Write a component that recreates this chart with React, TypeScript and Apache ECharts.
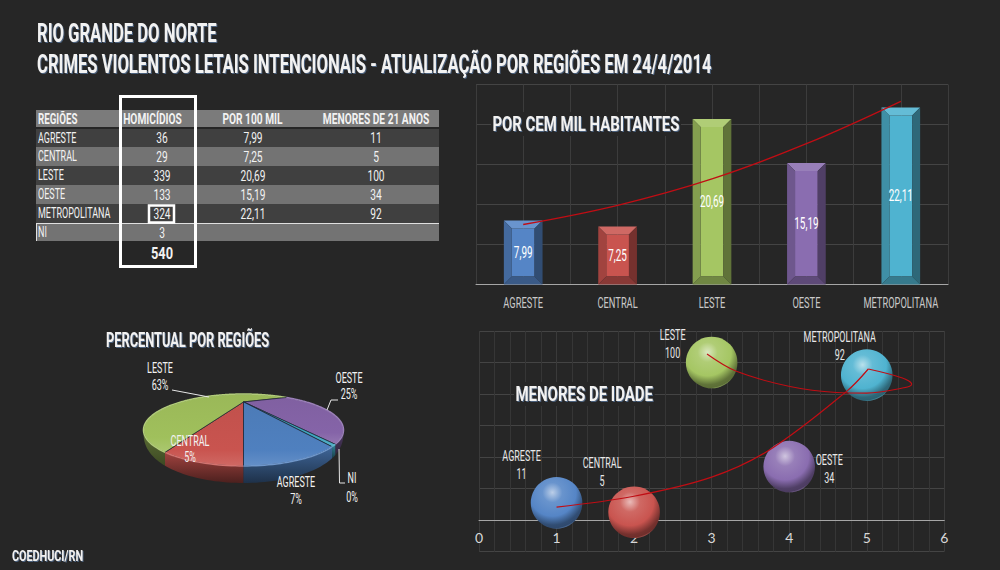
import React, { useEffect, useRef } from "react";
import * as echarts from "echarts";

const titleLines = ["RIO GRANDE DO NORTE", "CRIMES VIOLENTOS LETAIS INTENCIONAIS - ATUALIZAÇÃO POR REGIÕES EM 24/4/2014"];
const tableHeaders = ["REGIÕES", "HOMICÍDIOS", "POR 100 MIL", "MENORES DE 21 ANOS"];
const tableRegions = ["AGRESTE", "CENTRAL", "LESTE", "OESTE", "METROPOLITANA", "NI"];
const tableHomicides = ["36", "29", "339", "133", "324", "3"];
const tableRates = ["7,99", "7,25", "20,69", "15,19", "22,11", ""];
const tableMinors = ["11", "5", "100", "34", "92", ""];
const tableTotal = "540";

const barCategories = ["AGRESTE", "CENTRAL", "LESTE", "OESTE", "METROPOLITANA"];
const barValues = [7.99, 7.25, 20.69, 15.19, 22.11];
const barTrend = [7.5, 9.9, 13.2, 17.6, 22.9];

const bubbleNames = ["AGRESTE", "CENTRAL", "LESTE", "OESTE", "METROPOLITANA"];
const bubbleX = [1, 2, 3, 4, 5];
const bubbleY = [11, 5, 100, 34, 92];
const bubbleTrendRise = [[1, 8.3], [1.98, 15], [3, 27.3], [3.75, 44.7], [4.74, 81.7], [5.02, 95.9]];
const bubbleTrendBack = [[5.02, 95.9], [5.46, 90.2], [5.58, 86.3], [5.46, 83.8], [5, 80.6], [4.61, 81], [4.01, 84.8], [3.32, 94.4], [2.94, 105.4]];

const pieNames = ["CENTRAL", "LESTE", "OESTE", "NI", "AGRESTE"];
const pieValues = [29, 339, 133, 3, 36];
const piePercents = ["5%", "63%", "25%", "0%", "7%"];

const BG = "#262626";
const FONT = "Roboto, sans-serif";
const palette = ["#5585c6", "#c9544f", "#a5c663", "#8a6db0", "#4fb3d0"];
const pieColors = ["#c9544f", "#a0c05c", "#8564a8", "#3fa6c0", "#4f80bf"];

function shade(hex: string, k: number) {
  const n = parseInt(hex.slice(1), 16);
  const f = (c: number) => Math.max(0, Math.min(255, Math.round(k < 0 ? c * (1 + k) : c + (255 - c) * k)));
  return `rgb(${f((n >> 16) & 255)},${f((n >> 8) & 255)},${f(n & 255)})`;
}

function label(x: number, y: number, text: string, size: number, opt: any = {}) {
  return {
    type: "text",
    x,
    y,
    scaleX: opt.scaleX ?? 0.6,
    z: opt.z ?? 50,
    silent: true,
    style: {
      text,
      fill: opt.fill ?? "#f2f2f2",
      font: `${opt.bold ? "bold " : ""}${size}px ${FONT}`,
      align: opt.align ?? "center",
      verticalAlign: "middle",
      ...(opt.style ?? {}),
    },
  };
}

function tableGraphics() {
  const out: any[] = [];
  const left = 36, width = 403;
  const rowTops = [129, 147, 166, 185, 204, 224];
  const rowBottoms = [147, 166, 185, 204, 223, 241];
  const colX = [162, 253, 376];
  const headerX = [152.5, 252.5, 376];
  const rect = (x: number, y: number, w: number, h: number, fill: string, z = 10) => ({
    type: "rect", z, silent: true, shape: { x, y, width: w, height: h }, style: { fill },
  });
  out.push(rect(left, 110, width, 17, "#7b7b7b"));
  out.push(label(38, 119, tableHeaders[0], 15, { align: "left", bold: true, scaleX: 0.65 }));
  tableHeaders.slice(1).forEach((h, i) => out.push(label(headerX[i], 119, h, 15, { bold: true, scaleX: 0.68 })));
  tableRegions.forEach((region, i) => {
    out.push(rect(left, rowTops[i], width, rowBottoms[i] - rowTops[i], i % 2 === 0 ? "#404040" : "#737373"));
    const cy = (rowTops[i] + rowBottoms[i]) / 2;
    out.push(label(38, cy, region, 15, { align: "left" }));
    out.push(label(colX[0], cy, tableHomicides[i], 15, { scaleX: 0.68 }));
    if (tableRates[i]) out.push(label(colX[1], cy, tableRates[i], 15, { scaleX: 0.68 }));
    if (tableMinors[i]) out.push(label(colX[2], cy, tableMinors[i], 15, { scaleX: 0.68 }));
  });
  out.push(rect(left, 223, width, 1, "#e0e0e0", 11));
  out.push(rect(36, 224, 1, 17, "#e0e0e0", 11));
  out.push(label(162, 254, tableTotal, 16, { bold: true, scaleX: 0.8 }));
  out.push({ type: "rect", z: 20, silent: true, shape: { x: 120.5, y: 96.5, width: 75, height: 170 }, style: { fill: "none", stroke: "#fff", lineWidth: 3 } });
  out.push({ type: "rect", z: 20, silent: true, shape: { x: 149, y: 205.5, width: 25, height: 17 }, style: { fill: "none", stroke: "#fff", lineWidth: 2.5 } });
  return out;
}

// Perspective disc: a slice's angle on the true circle is mapped to the tilted ellipse.
const PIE = { cx: 243.5, cy: 430, rx: 100, ry: 36, tilt: 0.78, depth: 17 };
function pieTotal() { return pieValues.reduce((a, b) => a + b, 0); }
function project(theta: number, r = 1) {
  const x = -Math.sin(theta) * r, y = Math.cos(theta) * r;
  const d = 1 - PIE.tilt * y;
  return [
    PIE.cx + PIE.rx * (x * Math.sqrt(1 - PIE.tilt * PIE.tilt)) / d,
    PIE.cy + PIE.ry * (y - PIE.tilt) / d,
  ];
}
function sliceAngles(i: number) {
  const total = pieTotal();
  const lastShare = (pieValues[pieValues.length - 1] / total) * Math.PI * 2;
  let a = pieValues.slice(0, i).reduce((s, v) => s + v, 0) / total * Math.PI * 2;
  if (i === pieValues.length - 1) a = -lastShare;
  return [a, a + (pieValues[i] / total) * Math.PI * 2];
}
function arcPoints(a0: number, a1: number) {
  const pts: number[][] = [];
  const n = Math.max(2, Math.ceil(Math.abs(a1 - a0) / 0.015));
  for (let k = 0; k <= n; k++) pts.push(project(a0 + ((a1 - a0) * k) / n));
  return pts;
}
function renderPieSide(params: any) {
  const i = params.dataIndex;
  const [a0, a1] = sliceAngles(i);
  const arc = arcPoints(a0, a1);
  const lower = arc.map(([x, y]) => {
    const t = Math.max(0.02, (y - PIE.cy) / PIE.ry);
    return [x, y + PIE.depth * Math.sqrt(t)];
  }).reverse();
  const c = pieColors[i];
  return {
    type: "polygon",
    shape: { points: arc.concat(lower) },
    style: {
      fill: { type: "linear", x: 0, y: 0, x2: 0, y2: 1, colorStops: [{ offset: 0, color: shade(c, -0.2) }, { offset: 1, color: shade(c, -0.62) }] },
    },
  };
}
function renderPieTop(params: any) {
  const i = params.dataIndex;
  const [a0, a1] = sliceAngles(i);
  const c = pieColors[i];
  const arc = arcPoints(a0, a1);
  return {
    type: "group",
    children: [
      {
        type: "polygon",
        shape: { points: [project(0, 0)].concat(arc) },
        style: {
          fill: { type: "linear", x: 0, y: 0, x2: 0, y2: 1, colorStops: [{ offset: 0, color: shade(c, -0.04) }, { offset: 0.75, color: c }, { offset: 1, color: shade(c, 0.12) }] },
          stroke: "#1d2430",
          lineWidth: 0.7,
        },
      },
      { type: "polyline", shape: { points: arc }, style: { fill: "none", stroke: shade(c, 0.18), lineWidth: 1.5 } },
    ],
  };
}

function renderBar(params: any, api: any) {
  const i = params.dataIndex;
  const top = api.coord([api.value(0), api.value(1)]);
  const base = api.coord([api.value(0), 0]);
  const w = api.size([1, 0])[0] * 0.41;
  const x0 = top[0] - w / 2, x1 = top[0] + w / 2, y0 = top[1], y1 = base[1];
  const b = 8, c = palette[i];
  const poly = (points: number[][], fill: string) => ({ type: "polygon", shape: { points }, style: { fill } });
  return {
    type: "group",
    children: [
      poly([[x0 + b, y0 + b], [x1 - b, y0 + b], [x1 - b, y1 - b], [x0 + b, y1 - b]], c),
      poly([[x0, y0], [x1, y0], [x1 - b, y0 + b], [x0 + b, y0 + b]], shade(c, 0.12)),
      poly([[x0, y0], [x0 + b, y0 + b], [x0 + b, y1 - b], [x0, y1]], shade(c, -0.2)),
      poly([[x1, y0], [x1 - b, y0 + b], [x1 - b, y1 - b], [x1, y1]], shade(c, -0.42)),
      poly([[x0, y1], [x0 + b, y1 - b], [x1 - b, y1 - b], [x1, y1]], shade(c, -0.32)),
      {
        type: "text", x: top[0], y: (y0 + y1) / 2, scaleX: 0.62,
        style: {
          text: barValues[i].toFixed(2).replace(".", ","),
          fill: "#fff", font: `16px ${FONT}`, align: "center", verticalAlign: "middle",
        },
      },
      {
        type: "text", x: top[0], y: y1 + 18, scaleX: 0.62,
        style: {
          text: barCategories[i],
          fill: "#c9c9c9", font: `15px ${FONT}`, align: "center", verticalAlign: "middle",
        },
      },
    ],
  };
}

function sphere(c: string) {
  return {
    type: "radial", x: 0.42, y: 0.3, r: 0.74,
    colorStops: [
      { offset: 0, color: shade(c, 0.6) },
      { offset: 0.26, color: shade(c, 0.12) },
      { offset: 0.62, color: c },
      { offset: 0.85, color: shade(c, -0.42) },
      { offset: 0.93, color: shade(c, -0.45) },
      { offset: 1, color: shade(c, 0.15) },
    ],
  };
}
const bubbleLabelOffset = [[-35, -38], [-32, -40], [-39, -18], [40, 3], [-27, -29]];

function renderBubbleLabel(params: any, api: any) {
  const i = params.dataIndex;
  const p = api.coord([api.value(0), api.value(1)]);
  const [dx, dy] = bubbleLabelOffset[i];
  return {
    type: "text", x: p[0] + dx, y: p[1] + dy, scaleX: 0.6,
    style: {
      text: `${bubbleNames[i]}\n${bubbleY[i]}`,
      fill: "#e8e8e8", font: `15px ${FONT}`, lineHeight: 18, align: "center", verticalAlign: "middle",
    },
  };
}

export default function App() {
  const ref = useRef<HTMLDivElement>(null);
  useEffect(() => {
    const chart = echarts.init(ref.current!, undefined, { renderer: "svg" });
    const shadow = { textShadowColor: "rgba(90,120,160,0.7)", textShadowBlur: 1, textShadowOffsetX: 1, textShadowOffsetY: 1 };
    const heading = (x: number, y: number, text: string, size: number, scaleX: number, align = "left") =>
      label(x, y, text, size, { bold: true, scaleX, align, style: shadow });
    const pieLabels = [
      [190, 441, 457], [160, 368, 385], [349, 378, 394], [352, 478, 497], [296, 482, 499],
    ];
    const leaders = [
      [[172, 390], [209, 397]],
      [[327, 410], [331, 400], [338, 400]],
      [[339, 449], [339.5, 483], [345, 483]],
    ];
    chart.setOption({
      animation: false,
      backgroundColor: BG,
      textStyle: { fontFamily: FONT },
      grid: [
        { left: 476, right: 52, top: 84.5, height: 200, outerBoundsMode: "none" },
        { left: 479, right: 55.7, top: 331, bottom: 18.3, outerBoundsMode: "none" },
      ],
      xAxis: [
        {
          type: "category", gridIndex: 0, data: barCategories,
          axisTick: { show: false },
          axisLine: { lineStyle: { color: "#a6a6a6" } },
          axisLabel: { show: false },
        },
        {
          type: "value", gridIndex: 0, min: 0, max: 10, interval: 1, position: "top",
          axisLine: { show: false }, axisTick: { show: false }, axisLabel: { show: false },
          splitLine: { show: true, lineStyle: { color: "#3c3c3c" } },
        },
        {
          type: "value", gridIndex: 1, min: 0, max: 6, interval: 1,
          axisLine: { onZero: true, lineStyle: { color: "#a6a6a6" } },
          axisTick: { show: false },
          axisLabel: { color: "#d8d8d8", fontSize: 14, fontFamily: "Lato, sans-serif", margin: -21 },
          splitLine: { show: true, lineStyle: { color: "#3a3a3a" } },
          minorTick: { show: false, splitNumber: 5 },
          minorSplitLine: { show: true, lineStyle: { color: "#363636" } },
        },
      ],
      yAxis: [
        {
          type: "value", gridIndex: 0, min: 0, max: 25, interval: 5,
          axisLine: { show: false }, axisTick: { show: false }, axisLabel: { show: false },
          splitLine: { lineStyle: { color: "#444" } },
        },
        {
          type: "value", gridIndex: 1, min: -20, max: 120, interval: 20,
          axisLine: { show: false }, axisTick: { show: false }, axisLabel: { show: false },
          splitLine: { lineStyle: { color: "#444" } },
        },
      ],
      series: [
        {
          type: "custom", xAxisIndex: 0, yAxisIndex: 0, z: 3,
          renderItem: renderBar,
          encode: { x: 0, y: 1 },
          clip: false,
          data: barValues.map((v, i) => [i, v]),
        },
        {
          type: "line", xAxisIndex: 0, yAxisIndex: 0, z: 4, smooth: 0.4, symbol: "none",
          data: barTrend, lineStyle: { color: "#c00d14", width: 1.3 },
        },
        {
          type: "scatter", xAxisIndex: 2, yAxisIndex: 1, z: 3, symbolSize: 51.6,
          data: bubbleX.map((x, i) => ({
            value: [x, bubbleY[i]],
            itemStyle: { color: sphere(palette[i]), opacity: 1 },
          })),
        },
        {
          type: "custom", xAxisIndex: 2, yAxisIndex: 1, z: 5, clip: false,
          renderItem: renderBubbleLabel,
          encode: { x: 0, y: 1 },
          data: bubbleX.map((x, i) => [x, bubbleY[i]]),
        },
        {
          type: "line", xAxisIndex: 2, yAxisIndex: 1, z: 4, smooth: 0.35, symbol: "none",
          data: bubbleTrendRise, lineStyle: { color: "#c00d14", width: 1.2 },
        },
        {
          type: "line", xAxisIndex: 2, yAxisIndex: 1, z: 4, smooth: 0.35, symbol: "none",
          data: bubbleTrendBack, lineStyle: { color: "#c00d14", width: 1.1 },
        },
        { type: "custom", coordinateSystem: "none", z: 5, renderItem: renderPieSide, data: pieValues },
        { type: "custom", coordinateSystem: "none", z: 6, renderItem: renderPieTop, data: pieValues },
      ],
      graphic: [
        heading(37, 33, titleLines[0], 26, 0.64),
        heading(37, 64, titleLines[1], 26, 0.64),
        ...tableGraphics(),
        label(491, 124, "POR CEM MIL HABITANTES", 20, { align: "left", bold: true, scaleX: 0.745, style: { backgroundColor: BG, padding: [2, 2], ...shadow } }),
        label(514, 394, "MENORES DE IDADE", 20, { align: "left", bold: true, scaleX: 0.75, style: { backgroundColor: BG, padding: [2, 2], ...shadow } }),
        heading(106, 340, "PERCENTUAL POR REGIÕES", 20, 0.64),
        heading(12, 556, "COEDHUCI/RN", 15, 0.72),
        ...leaders.map((points) => ({
          type: "polyline", z: 40, silent: true, shape: { points }, style: { stroke: "#e6e6e6", fill: "none", lineWidth: 1 },
        })),
        ...pieNames.flatMap((name, i) => [
          label(pieLabels[i][0], pieLabels[i][1], name, 15),
          label(pieLabels[i][0], pieLabels[i][2], piePercents[i], 15),
        ]),
      ],
    });
    return () => chart.dispose();
  }, []);
  return <div ref={ref} style={{ position: "fixed", left: 0, top: 0, width: 1000, height: 570 }} />;
}
